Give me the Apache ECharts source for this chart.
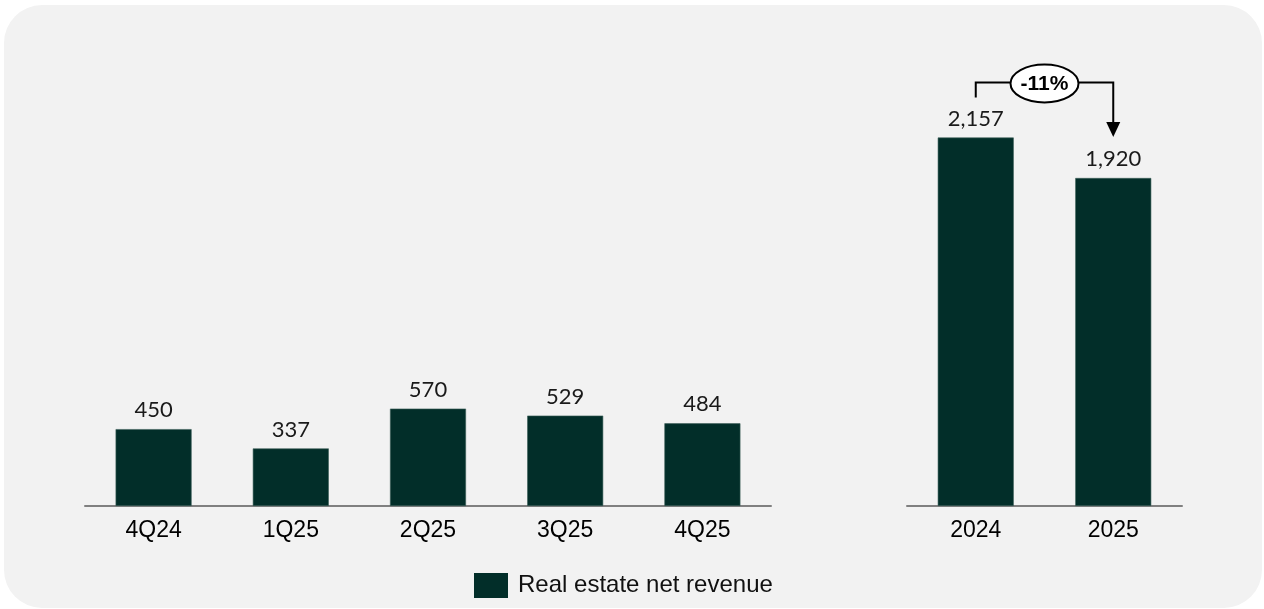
<!DOCTYPE html>
<html>
<head>
<meta charset="utf-8">
<script src="https://cdn.jsdelivr.net/npm/echarts@6/dist/echarts.min.js"></script>
<style>
  html, body { margin: 0; padding: 0; background: #ffffff; }
  .panel {
    position: absolute; left: 4px; top: 5px; width: 1258px; height: 603px;
    background: #f2f2f2; border-radius: 38px;
  }
  #chart { position: absolute; left: 0; top: 0; width: 1264px; height: 609px; }
</style>
</head>
<body>
<div class="panel"></div>
<div id="chart"></div>
<script>
var seriesName = 'Real estate net revenue';
var quarters = ['4Q24', '1Q25', '2Q25', '3Q25', '4Q25'];
var quarterValues = [450, 337, 570, 529, 484];
var years = ['2024', '2025'];
var yearValues = [2157, 1920];

var barColor = '#022e29';
var yMax = 2400;

var myChart = echarts.init(document.getElementById('chart'));

function xAxisCfg(gridIndex, data) {
  return {
    type: 'category',
    gridIndex: gridIndex,
    data: data,
    axisTick: { show: false },
    axisLine: { lineStyle: { color: '#808080', width: 2 } },
    axisLabel: {
      color: '#000',
      fontSize: 23,
      fontFamily: 'Liberation Sans, Arial, sans-serif',
      margin: 13
    }
  };
}

function yAxisCfg(gridIndex) {
  return {
    type: 'value',
    gridIndex: gridIndex,
    min: 0,
    max: yMax,
    show: false,
    splitLine: { show: false }
  };
}

function barSeries(idx, data) {
  return {
    name: seriesName,
    type: 'bar',
    xAxisIndex: idx,
    yAxisIndex: idx,
    data: data,
    barWidth: 76,
    itemStyle: { color: barColor, borderColor: '#3d5f59', borderWidth: 0.6 },
    label: {
      show: true,
      position: 'top',
      distance: 8,
      color: '#1a1a1a',
      fontSize: 22,
      fontFamily: 'Lato, sans-serif',
      formatter: function (p) {
        return p.value.toLocaleString('en-US');
      }
    }
  };
}

var option = {
  animation: false,
  grid: [
    { left: 85, width: 686, top: 96, bottom: 103 },
    { left: 907, width: 275, top: 96, bottom: 103 }
  ],
  xAxis: [xAxisCfg(0, quarters), xAxisCfg(1, years)],
  yAxis: [yAxisCfg(0), yAxisCfg(1)],
  legend: {
    data: [{ name: seriesName, icon: 'rect' }],
    left: 469,
    top: 568,
    itemWidth: 34,
    itemHeight: 25,
    itemGap: 10,
    itemStyle: { borderWidth: 0 },
    textStyle: {
      color: '#111',
      fontSize: 24,
      fontFamily: 'Liberation Sans, Arial, sans-serif',
      padding: [3, 0, 0, 5]
    }
  },
  series: [barSeries(0, quarterValues), barSeries(1, yearValues)]
};

myChart.setOption(option);

// bracket + arrow with percentage change between the two years
var p0 = myChart.convertToPixel({ seriesIndex: 1 }, [0, yearValues[0]]);
var p1 = myChart.convertToPixel({ seriesIndex: 1 }, [1, yearValues[1]]);
var topY = p0[1] - 55;
var change = Math.round((yearValues[1] / yearValues[0] - 1) * 100);
var tipY = p1[1] - 41;

myChart.setOption({
  graphic: [
    {
      type: 'polyline',
      shape: { points: [[p0[0], p0[1] - 40], [p0[0], topY], [p1[0], topY], [p1[0], tipY - 14]] },
      style: { stroke: '#000', lineWidth: 2, fill: null }
    },
    {
      type: 'polygon',
      shape: { points: [[p1[0] - 7, tipY - 15], [p1[0] + 7, tipY - 15], [p1[0], tipY]] },
      style: { fill: '#000' }
    },
    {
      type: 'ellipse',
      shape: { cx: (p0[0] + p1[0]) / 2, cy: topY + 1, rx: 34, ry: 19 },
      style: { fill: '#fff', stroke: '#000', lineWidth: 2 }
    },
    {
      type: 'text',
      x: (p0[0] + p1[0]) / 2,
      y: topY + 2,
      style: {
        text: change + '%',
        fill: '#000',
        fontSize: 21,
        fontWeight: 'bold',
        fontFamily: 'Liberation Sans, Arial, sans-serif',
        align: 'center',
        verticalAlign: 'middle'
      }
    }
  ]
});
</script>
</body>
</html>
